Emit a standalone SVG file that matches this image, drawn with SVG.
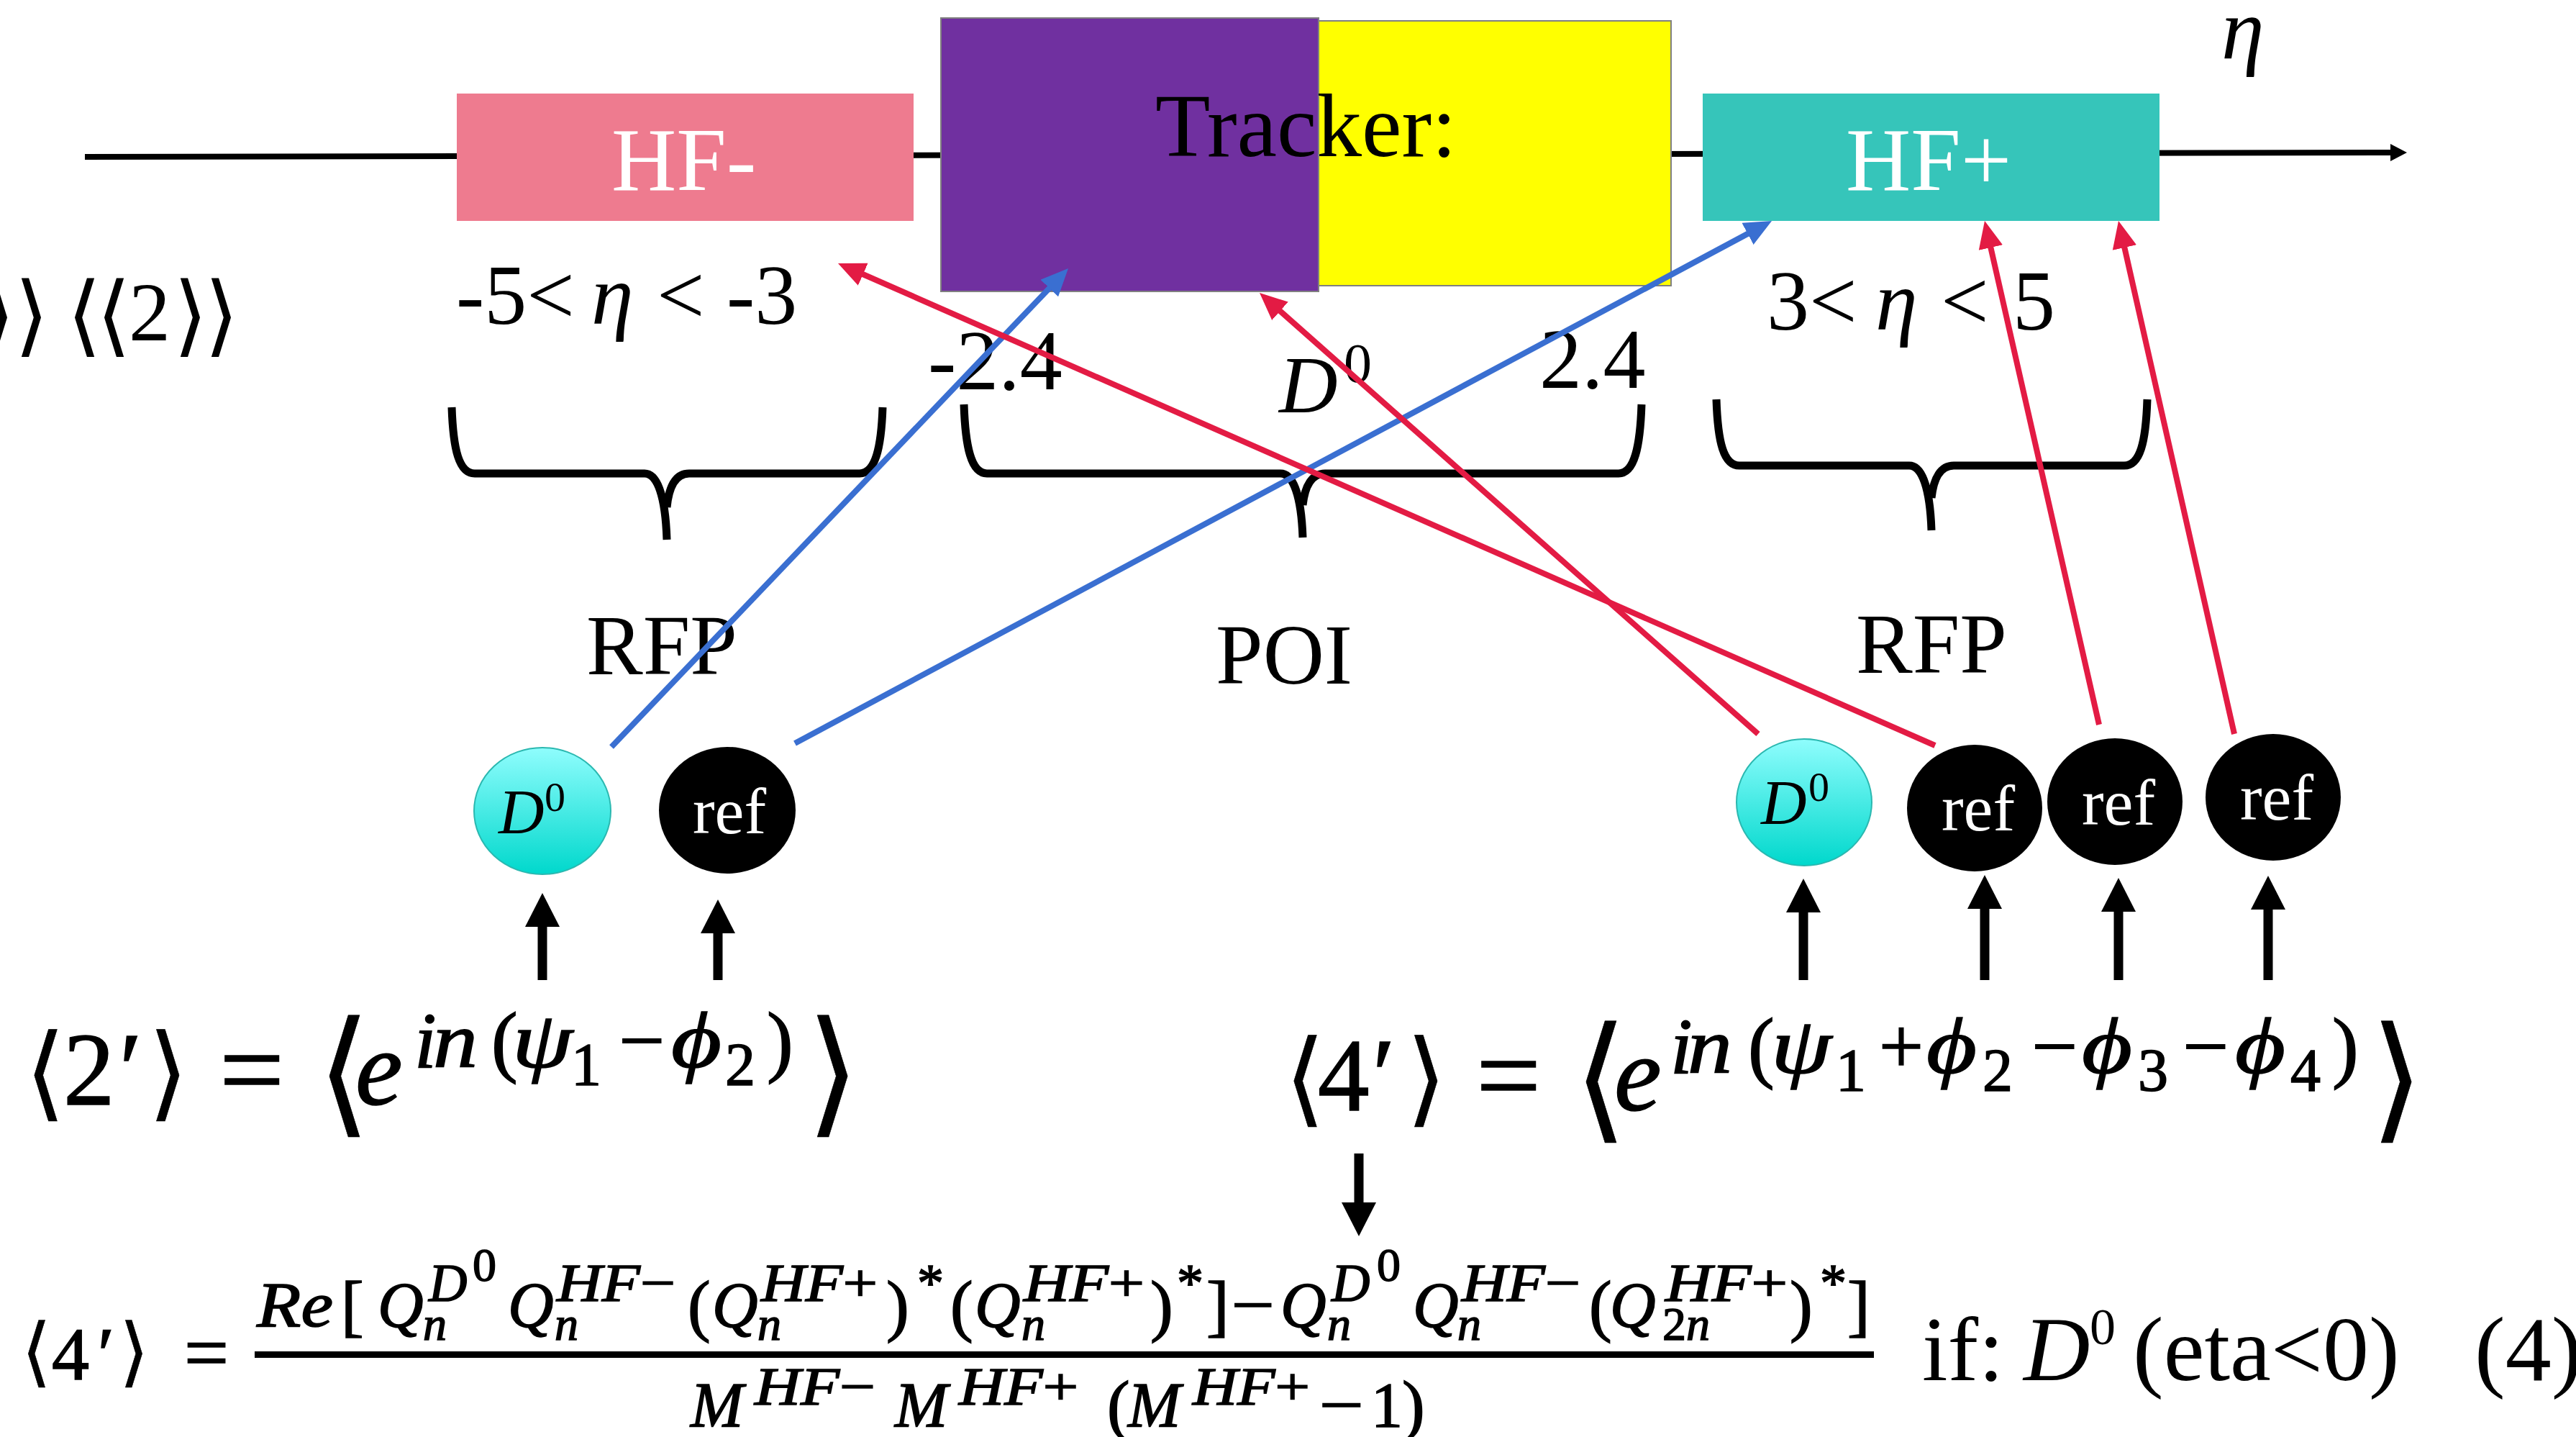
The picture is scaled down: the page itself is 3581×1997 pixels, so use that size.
<svg xmlns="http://www.w3.org/2000/svg" width="3581" height="1997" viewBox="0 0 3581 1997">
<defs>
<linearGradient id="gD" x1="0" y1="0" x2="0" y2="1"><stop offset="0" stop-color="#8FFDFD"/><stop offset="1" stop-color="#00D8CC"/></linearGradient>
<marker id="mRed" markerUnits="userSpaceOnUse" viewBox="0 0 40 36" markerWidth="40" markerHeight="36" refX="18" refY="17" orient="auto"><path d="M0,0 L38,17 L0,34 z" fill="#E31B44"/></marker>
<marker id="mBlue" markerUnits="userSpaceOnUse" viewBox="0 0 40 36" markerWidth="40" markerHeight="36" refX="18" refY="17" orient="auto"><path d="M0,0 L38,17 L0,34 z" fill="#3A6FD1"/></marker>
<marker id="mBlk" markerUnits="userSpaceOnUse" viewBox="0 0 48 48" markerWidth="48" markerHeight="48" refX="27" refY="24" orient="auto"><path d="M0,0 L47,24 L0,48 z" fill="#000"/></marker>
<marker id="mAxis" markerUnits="userSpaceOnUse" viewBox="0 0 24 24" markerWidth="24" markerHeight="24" refX="10" refY="12" orient="auto"><path d="M0,0 L23,12 L0,24 z" fill="#000"/></marker>
</defs>
<style>
.t{font-family:"Liberation Serif","Times New Roman","DejaVu Serif",serif;fill:#000}
.i{font-style:italic}
.ab{font-family:"DejaVu Sans",sans-serif;font-style:normal}
.w{fill:#fff}
.lbl{font-size:118px}
.eq text{stroke:#000;stroke-width:1.6}
.eq text.ab{stroke-width:0.6}
.brace{fill:none;stroke:#000;stroke-width:11}
.red{stroke:#E31B44;stroke-width:8;fill:none;marker-end:url(#mRed)}
.blue{stroke:#3A6FD1;stroke-width:8;fill:none;marker-end:url(#mBlue)}
.up{stroke:#000;stroke-width:13;marker-end:url(#mBlk)}
.d0{fill:url(#gD);stroke:#2BB8B0;stroke-width:2}
.ref{fill:#000}
.sup{font-size:74px}
.sub{font-size:66px}
.nm{font-size:88px}
.s1{font-size:110px}
.s2{font-size:84px}
</style>
<rect width="3581" height="1997" fill="#fff"/>

<g id="axis">
<line x1="118" y1="218" x2="3333" y2="212" stroke="#000" stroke-width="8" marker-end="url(#mAxis)"/>
<text class="t i" x="3088" y="81" font-size="120">η</text>
</g>

<g id="hf-minus">
<rect x="635" y="130" width="635" height="177" fill="#EE7B8F"/>
<text class="t w" x="850" y="264" font-size="125">HF-</text>
</g>

<g id="tracker">
<rect x="1832" y="29" width="491" height="368" fill="#FFFF00" stroke="#808080" stroke-width="2"/>
<rect x="1308" y="25" width="525" height="380" fill="#7030A0" stroke="#808080" stroke-width="2"/>
<text class="t" x="1606" y="217" font-size="125">Tracker:</text>
</g>

<g id="hf-plus">
<rect x="2367" y="130" width="635" height="177" fill="#36C5BA"/>
<text class="t w" x="2566" y="264" font-size="125">HF+</text>
</g>

<g id="labels" class="t lbl">
<text x="-27" y="480" class="ab" font-size="123">⟩</text>
<text x="20" y="480" class="ab" font-size="123">⟩</text>
<text x="93" y="480" class="ab" font-size="123">⟨</text>
<text x="134" y="480" class="ab" font-size="123">⟨</text>
<text x="179" y="473" font-size="116">2</text>
<text x="241" y="480" class="ab" font-size="123">⟩</text>
<text x="284" y="480" class="ab" font-size="123">⟩</text>

<text x="634" y="450">-5&lt;</text>
<text x="822" y="450" class="i">η</text>
<text x="913" y="450">&lt;</text>
<text x="1010" y="450">-3</text>

<text x="2456" y="458">3&lt;</text>
<text x="2607" y="458" class="i">η</text>
<text x="2698" y="458">&lt;</text>
<text x="2798" y="458">5</text>

<text x="1290" y="541">-2.4</text>
<text x="1778" y="573" class="i" font-size="113">D</text>
<text x="1868" y="531" font-size="78">0</text>
<text x="2140" y="539">2.4</text>

<text x="815" y="937">RFP</text>
<text x="1690" y="950">POI</text>
<text x="2580" y="935">RFP</text>
</g>

<g id="braces">
<path class="brace" d="M628,566 C630,625 638,658 660,658 L896,658 C914,658 925,690 927,750 M927,705 C930,675 940,658 958,658 L1195,658 C1216,658 1225,625 1227,566"/>
<path class="brace" d="M1340,562 C1342,622 1350,658 1372,658 L1780,658 C1798,658 1809,690 1811,747 M1811,702 C1814,675 1824,658 1842,658 L2250,658 C2272,658 2280,622 2282,562"/>
<path class="brace" d="M2386,555 C2388,615 2396,647 2418,647 L2654,647 C2672,647 2683,679 2685,737 M2685,692 C2688,664 2698,647 2716,647 L2953,647 C2975,647 2983,615 2985,555"/>
</g>

<g id="connectors">
<line class="blue" x1="850" y1="1038" x2="1471.2" y2="387.5"/>
<line class="blue" x1="1105" y1="1033" x2="2445.4" y2="316.4"/>
<line class="red" x1="2690" y1="1036" x2="1183.3" y2="374"/>
<line class="red" x1="2444" y1="1020" x2="1766" y2="420.3"/>
<line class="red" x1="2918" y1="1007" x2="2763.4" y2="326.5"/>
<line class="red" x1="3106" y1="1020" x2="2949.4" y2="326.5"/>
<line class="up" x1="754" y1="1362" x2="754" y2="1261"/>
<line class="up" x1="998" y1="1362" x2="998" y2="1270"/>
<line class="up" x1="2507" y1="1362" x2="2507" y2="1241"/>
<line class="up" x1="2759" y1="1362" x2="2759" y2="1236"/>
<line class="up" x1="2945" y1="1362" x2="2945" y2="1240"/>
<line class="up" x1="3153" y1="1362" x2="3153" y2="1237"/>
<line class="up" x1="1889" y1="1603" x2="1889" y2="1698"/>
</g>

<g id="d0-left">
<ellipse class="d0" cx="754" cy="1127" rx="95" ry="88"/>
<text class="t i" x="693" y="1158" font-size="88">D</text>
<text class="t" x="757" y="1127" font-size="58">0</text>
</g>
<g id="ref-left">
<ellipse class="ref" cx="1011" cy="1126" rx="95" ry="88"/>
<text class="t w" x="1014" y="1158" font-size="92" text-anchor="middle">ref</text>
</g>
<g id="d0-right">
<ellipse class="d0" cx="2508" cy="1115" rx="94" ry="88"/>
<text class="t i" x="2448" y="1145" font-size="88">D</text>
<text class="t" x="2514" y="1113" font-size="58">0</text>
</g>
<g id="ref-right-1">
<ellipse class="ref" cx="2745" cy="1123" rx="94" ry="88"/>
<text class="t w" x="2750" y="1154" font-size="92" text-anchor="middle">ref</text>
</g>
<g id="ref-right-2">
<ellipse class="ref" cx="2940" cy="1114" rx="94" ry="88"/>
<text class="t w" x="2945" y="1146" font-size="92" text-anchor="middle">ref</text>
</g>
<g id="ref-right-3">
<ellipse class="ref" cx="3160" cy="1108" rx="94" ry="88"/>
<text class="t w" x="3165" y="1139" font-size="92" text-anchor="middle">ref</text>
</g>

<g id="eq-2prime" class="t eq">
<text class="ab" x="35" y="1539" font-size="143">⟨</text>
<text x="88" y="1535" font-size="143">2</text>
<text x="166" y="1535" font-size="143">′</text>
<text class="ab" x="206" y="1539" font-size="143">⟩</text>
<text x="350" y="1540" font-size="160" text-anchor="middle">=</text>
<text class="ab" x="441" y="1555" font-size="190">⟨</text>
<text class="i" x="494" y="1535" font-size="148">e</text>
<text class="i s1" x="576" y="1483">i</text>
<text class="i s1" x="602" y="1483" textLength="62" lengthAdjust="spacingAndGlyphs">n</text>
<text class="s1" x="683" y="1483">(</text>
<text class="i s1" x="712" y="1483" textLength="84" lengthAdjust="spacingAndGlyphs">ψ</text>
<text class="s2" x="794" y="1508">1</text>
<text class="s1" x="860" y="1483" textLength="64" lengthAdjust="spacingAndGlyphs">−</text>
<text class="i s1" x="933" y="1483" textLength="70" lengthAdjust="spacingAndGlyphs">ϕ</text>
<text class="s2" x="1008" y="1508">2</text>
<text class="s1" x="1066" y="1483">)</text>
<text class="ab" x="1121" y="1555" font-size="190">⟩</text>
</g>

<g id="eq-4prime" class="t eq">
<text class="ab" x="1786" y="1547" font-size="143">⟨</text>
<text x="1832" y="1543" font-size="143">4</text>
<text x="1908" y="1543" font-size="143">′</text>
<text class="ab" x="1955" y="1547" font-size="143">⟩</text>
<text x="2097" y="1548" font-size="160" text-anchor="middle">=</text>
<text class="ab" x="2188" y="1563" font-size="190">⟨</text>
<text class="i" x="2244" y="1543" font-size="148">e</text>
<text class="i s1" x="2322" y="1491">i</text>
<text class="i s1" x="2346" y="1491" textLength="62" lengthAdjust="spacingAndGlyphs">n</text>
<text class="s1" x="2430" y="1491">(</text>
<text class="i s1" x="2462" y="1491" textLength="84" lengthAdjust="spacingAndGlyphs">ψ</text>
<text class="s2" x="2552" y="1516">1</text>
<text class="s1" x="2612" y="1491" textLength="62" lengthAdjust="spacingAndGlyphs">+</text>
<text class="i s1" x="2678" y="1491" textLength="70" lengthAdjust="spacingAndGlyphs">ϕ</text>
<text class="s2" x="2756" y="1516">2</text>
<text class="s1" x="2824" y="1491" textLength="64" lengthAdjust="spacingAndGlyphs">−</text>
<text class="i s1" x="2894" y="1491" textLength="70" lengthAdjust="spacingAndGlyphs">ϕ</text>
<text class="s2" x="2972" y="1516">3</text>
<text class="s1" x="3034" y="1491" textLength="64" lengthAdjust="spacingAndGlyphs">−</text>
<text class="i s1" x="3107" y="1491" textLength="70" lengthAdjust="spacingAndGlyphs">ϕ</text>
<text class="s2" x="3184" y="1516">4</text>
<text class="s1" x="3242" y="1491">)</text>
<text class="ab" x="3295" y="1563" font-size="190">⟩</text>
</g>

<g id="eq-4" class="t eq">
<text class="ab" x="30" y="1914" font-size="105">⟨</text>
<text x="72" y="1917" font-size="104">4</text>
<text x="136" y="1917" font-size="104">′</text>
<text class="ab" x="166" y="1914" font-size="105">⟩</text>
<text x="287" y="1917" font-size="110" text-anchor="middle">=</text>
<rect x="354" y="1878" width="2251" height="9" fill="#000"/>
<text class="i nm" x="357" y="1843" textLength="106" lengthAdjust="spacingAndGlyphs">Re</text>
<text x="474" y="1846" font-size="95">[</text>
<text class="i nm" x="525" y="1843">Q</text>
<text class="i sub" x="588" y="1862">n</text>
<text class="i sup" x="596" y="1808">D</text>
<text x="657" y="1780" font-size="66">0</text>
<text class="i nm" x="706" y="1843">Q</text>
<text class="i sub" x="771" y="1862">n</text>
<text class="sup" x="774" y="1808" textLength="165" lengthAdjust="spacingAndGlyphs"><tspan class="i">HF</tspan>−</text>
<text x="956" y="1846" font-size="95">(</text>
<text class="i nm" x="990" y="1843">Q</text>
<text class="i sub" x="1053" y="1862">n</text>
<text class="sup" x="1058" y="1808" textLength="162" lengthAdjust="spacingAndGlyphs"><tspan class="i">HF</tspan>+</text>
<text x="1232" y="1846" font-size="95">)</text>
<text class="sup" x="1275" y="1808">*</text>
<text x="1321" y="1846" font-size="95">(</text>
<text class="i nm" x="1355" y="1843">Q</text>
<text class="i sub" x="1420" y="1862">n</text>
<text class="sup" x="1423" y="1808" textLength="168" lengthAdjust="spacingAndGlyphs"><tspan class="i">HF</tspan>+</text>
<text x="1599" y="1846" font-size="95">)</text>
<text class="sup" x="1636" y="1808">*</text>
<text x="1677" y="1846" font-size="95">]</text>
<text class="nm" x="1712" y="1843" textLength="60" lengthAdjust="spacingAndGlyphs">−</text>
<text class="i nm" x="1780" y="1843">Q</text>
<text class="i sub" x="1845" y="1862">n</text>
<text class="i sup" x="1851" y="1808">D</text>
<text x="1914" y="1780" font-size="66">0</text>
<text class="i nm" x="1964" y="1843">Q</text>
<text class="i sub" x="2026" y="1862">n</text>
<text class="sup" x="2032" y="1808" textLength="165" lengthAdjust="spacingAndGlyphs"><tspan class="i">HF</tspan>−</text>
<text x="2209" y="1846" font-size="95">(</text>
<text class="i nm" x="2238" y="1843">Q</text>
<text class="sub" x="2311" y="1862">2<tspan class="i">n</tspan></text>
<text class="sup" x="2315" y="1808" textLength="170" lengthAdjust="spacingAndGlyphs"><tspan class="i">HF</tspan>+</text>
<text x="2488" y="1846" font-size="95">)</text>
<text class="sup" x="2530" y="1808">*</text>
<text x="2568" y="1846" font-size="95">]</text>
<text class="i nm" x="960" y="1982">M</text>
<text class="sup" x="1049" y="1952" textLength="168" lengthAdjust="spacingAndGlyphs"><tspan class="i">HF</tspan>−</text>
<text class="i nm" x="1244" y="1982">M</text>
<text class="sup" x="1333" y="1952" textLength="166" lengthAdjust="spacingAndGlyphs"><tspan class="i">HF</tspan>+</text>
<text x="1539" y="1985" font-size="95">(</text>
<text class="i nm" x="1568" y="1982">M</text>
<text class="sup" x="1658" y="1952" textLength="163" lengthAdjust="spacingAndGlyphs"><tspan class="i">HF</tspan>+</text>
<text class="nm" x="1834" y="1982" textLength="62" lengthAdjust="spacingAndGlyphs">−</text>
<text class="nm" x="1906" y="1982">1</text>
<text x="1949" y="1985" font-size="95">)</text>
</g>
<g id="condition" class="t">
<text x="2672" y="1918" font-size="128">if:</text>
<text class="i" x="2813" y="1918" font-size="128">D</text>
<text x="2905" y="1868" font-size="72">0</text>
<text x="2965" y="1918" font-size="128">(eta&lt;0)</text>
<text x="3440" y="1918" font-size="128">(4)</text>
</g>
</svg>
